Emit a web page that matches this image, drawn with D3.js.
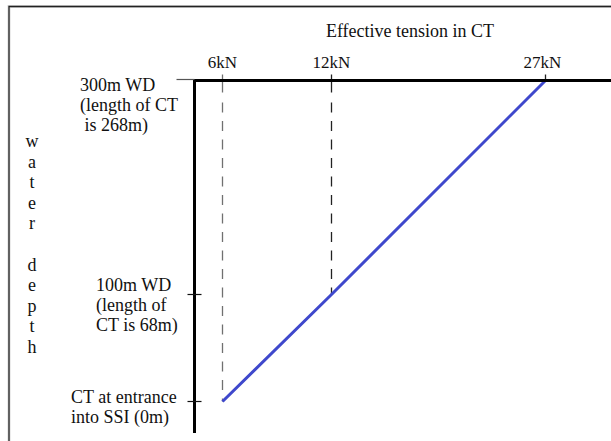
<!DOCTYPE html>
<html>
<head>
<meta charset="utf-8">
<script src="https://cdn.jsdelivr.net/npm/d3@7"></script>
<style>
  html, body { margin: 0; padding: 0; background: #fff; }
  svg { display: block; }
  text { font-family: "Liberation Serif", "Times New Roman", serif; fill: #111; white-space: pre; }
</style>
</head>
<body>
<svg id="chart" width="611" height="441"></svg>
<script>
// Effective tension in the coiled tubing versus water depth
const depthM = [0, 100, 300];
const tensionKN = [6, 12, 27];
const tensionTickLabels = ["6kN", "12kN", "27kN"];
const depthLabelLines = [
  ["CT at entrance", "into SSI (0m)"],
  ["100m WD", "(length of", "CT is 68m)"],
  ["300m WD", "(length of CT", " is 268m)"]
];
const depthLabelX = [71, 96, 80];
const depthLabelShift = [1.5, -4, 10];
const xTitle = "Effective tension in CT";
const yTitle = "water depth";

const svg = d3.select("#chart");
const W = 611, H = 441;

// Schematic (piecewise) tension scale and linear depth scale
const x = d3.scaleLinear().domain(tensionKN).range([222.5, 331.5, 545.5]);
const y = d3.scaleLinear().domain([0, 300]).range([401.5, 80.5]);
const axisX = 194.5, axisTop = y(300);

// outer frame
svg.append("path")
  .attr("d", `M9,${H} V6.5 H${W}`)
  .attr("fill", "none").attr("stroke", "#d8d8d8").attr("stroke-width", 3);
svg.append("path")
  .attr("d", `M9,${H} V6.5 H${W}`)
  .attr("fill", "none").attr("stroke", "#222").attr("stroke-width", 1.3);

// dashed guide lines from the tension ticks down to the curve
const guideColors = ["#707070", "#222", "#222"];
tensionKN.forEach((t, i) => {
  const d = depthM[i];
  if (d === 300) return;
  svg.append("line")
    .attr("x1", x(t)).attr("x2", x(t))
    .attr("y1", axisTop + 22).attr("y2", y(d))
    .attr("stroke", guideColors[i]).attr("stroke-width", 1.3)
    .attr("stroke-dasharray", "10,8.5");
});

// top tick marks
tensionKN.forEach((t, i) => {
  const last = depthM[i] === 300;
  svg.append("line")
    .attr("x1", x(t)).attr("x2", x(t))
    .attr("y1", axisTop - 6).attr("y2", last ? axisTop : axisTop + 12)
    .attr("stroke", guideColors[i]).attr("stroke-width", 1.3);
});

// tension curve
const line = d3.line().x(d => x(d.t)).y(d => y(d.d));
svg.append("path")
  .datum(depthM.map((d, i) => ({ d, t: tensionKN[i] })))
  .attr("d", line)
  .attr("fill", "none").attr("stroke", "#3f48cc").attr("stroke-width", 3);

// axes
svg.append("line")
  .attr("x1", axisX - 1.5).attr("x2", W).attr("y1", axisTop).attr("y2", axisTop)
  .attr("stroke", "#000").attr("stroke-width", 3);
svg.append("line")
  .attr("x1", axisX).attr("x2", axisX).attr("y1", axisTop - 1.5).attr("y2", 433)
  .attr("stroke", "#000").attr("stroke-width", 3);

// depth ticks
depthM.forEach(d => {
  const top = d === 300;
  svg.append("line")
    .attr("x1", top ? axisX - 18 : axisX - 7).attr("x2", top ? axisX : axisX + 7)
    .attr("y1", y(d) - (top ? 1 : 0)).attr("y2", y(d) - (top ? 1 : 0))
    .attr("stroke", top ? "#555" : "#111").attr("stroke-width", 1.2);
});

// tension tick labels
svg.selectAll("text.tick")
  .data(tensionKN)
  .join("text")
  .attr("class", "tick")
  .attr("x", (t, i) => x(t) - (i === 2 ? 3 : 0))
  .attr("y", axisTop - 13)
  .attr("text-anchor", "middle")
  .attr("font-size", 17)
  .text((t, i) => tensionTickLabels[i]);

// depth labels
depthM.forEach((d, i) => {
  const lines = depthLabelLines[i];
  const baseY = y(d) + depthLabelShift[i];
  svg.append("text")
    .attr("font-size", 18)
    .selectAll("tspan")
    .data(lines)
    .join("tspan")
    .attr("x", depthLabelX[i])
    .attr("y", (s, k) => baseY + k * 20)
    .text(s => s);
});

// x title
svg.append("text")
  .attr("x", 410).attr("y", 37)
  .attr("text-anchor", "middle")
  .attr("font-size", 18)
  .text(xTitle);

// y title, one letter per row
svg.append("text")
  .attr("font-size", 18)
  .attr("text-anchor", "middle")
  .selectAll("tspan")
  .data(yTitle.split(""))
  .join("tspan")
  .attr("x", 32)
  .attr("y", (c, k) => 147 + k * 20.6)
  .text(c => c);
</script>
</body>
</html>
